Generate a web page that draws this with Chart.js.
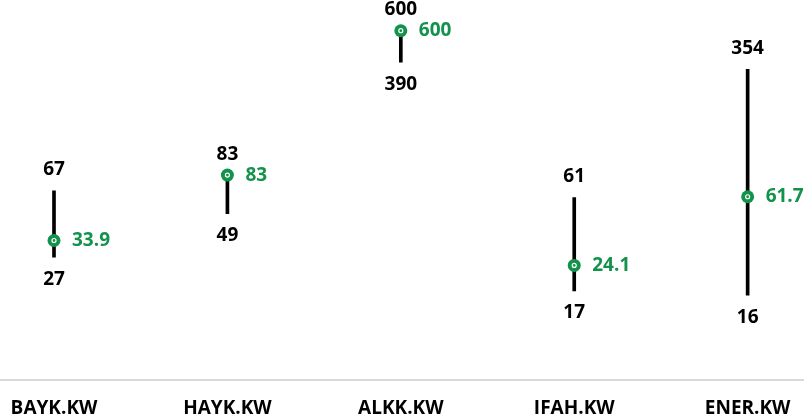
<!DOCTYPE html>
<html>
<head>
<meta charset="utf-8">
<script src="https://cdn.jsdelivr.net/npm/chart.js@4"></script>
<style>
    html, body { margin: 0; padding: 0; background: #ffffff; }
    #wrap { width: 804px; height: 420px; position: relative; }
</style>
</head>
<body>
<div id="wrap"><canvas id="range-chart"></canvas></div>
<script>
const categories = ['BAYK.KW', 'HAYK.KW', 'ALKK.KW', 'IFAH.KW', 'ENER.KW'];
const highs = [67, 83, 600, 61, 354];
const lows = [27, 49, 390, 17, 16];
const current = [33.9, 83, 600, 24.1, 61.7];

const green = '#12924a';
const fontFamily = '"Open Sans", "Noto Sans", sans-serif';

// number labels above / below each range and beside the green marker
const rangeLabels = {
    id: 'rangeLabels',
    afterDatasetsDraw(chart) {
        const { ctx, scales: { x, y } } = chart;
        ctx.save();
        ctx.font = `bold 19px ${fontFamily}`;
        ctx.textBaseline = 'middle';
        categories.forEach((cat, i) => {
            const px = x.getPixelForValue(i);
            ctx.fillStyle = '#000000';
            ctx.textAlign = 'center';
            ctx.fillText(String(highs[i]), px, y.getPixelForValue(highs[i]) - 21);
            ctx.fillText(String(lows[i]), px, y.getPixelForValue(lows[i]) + 22);
            ctx.fillStyle = green;
            ctx.textAlign = 'left';
            ctx.fillText(String(current[i]), px + 18, y.getPixelForValue(current[i]));
        });
        ctx.restore();
    }
};

const ctx = document.getElementById('range-chart').getContext('2d');
new Chart(ctx, {
    type: 'bar',
    data: {
        datasets: [
            {
                type: 'line',
                data: current.map((v, i) => ({ x: i, y: v })),
                showLine: false,
                pointRadius: 2,
                pointBackgroundColor: green,
                pointBorderColor: '#ffffff',
                pointBorderWidth: 1.2,
                order: 0
            },
            {
                type: 'line',
                data: current.map((v, i) => ({ x: i, y: v })),
                showLine: false,
                pointRadius: 6.5,
                pointBackgroundColor: green,
                pointBorderColor: green,
                pointBorderWidth: 0,
                order: 1
            },
            {
                type: 'bar',
                data: lows.map((v, i) => ({ x: i, y: [v, highs[i]] })),
                backgroundColor: '#000000',
                barThickness: 3,
                order: 2
            }
        ]
    },
    options: {
        responsive: true,
        maintainAspectRatio: false,
        animation: false,
        layout: { padding: 0, autoPadding: false },
        plugins: {
            legend: { display: false },
            tooltip: { enabled: false }
        },
        scales: {
            x: {
                type: 'linear',
                offset: false,
                min: -0.3114,
                max: 4.325,
                grid: { display: false, drawTicks: true, tickLength: 17 },
                border: { display: true, color: '#d9d9d9', width: 2 },
                afterBuildTicks: scale => {
                    scale.ticks = categories.map((c, i) => ({ value: i }));
                },
                ticks: {
                    autoSkip: false,
                    maxRotation: 0,
                    padding: 0,
                    color: '#000000',
                    font: { family: fontFamily, size: 19, weight: 'bold' },
                    callback: value => categories[value] ?? ''
                }
            },
            y: {
                type: 'logarithmic',
                display: false,
                min: 5,
                max: 914
            }
        }
    },
    plugins: [rangeLabels]
});
</script>
</body>
</html>
